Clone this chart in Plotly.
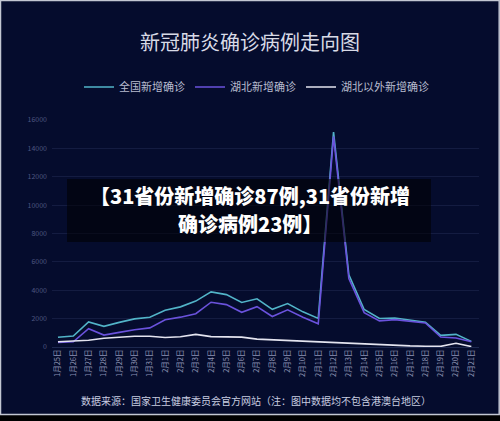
import plotly.graph_objects as go

dates = ["1月25日", "1月26日", "1月27日", "1月28日", "1月29日", "1月30日", "1月31日",
         "2月1日", "2月2日", "2月3日", "2月4日", "2月5日", "2月6日", "2月7日",
         "2月8日", "2月9日", "2月10日", "2月11日", "2月12日", "2月13日", "2月14日",
         "2月15日", "2月16日", "2月17日", "2月18日", "2月19日", "2月20日", "2月21日"]
national = [688, 769, 1771, 1459, 1737, 1982, 2102, 2590, 2829, 3235, 3887, 3694, 3143, 3399,
            2656, 3062, 2478, 2015, 15152, 5090, 2641, 2008, 2048, 1886, 1749, 820, 889, 397]
hubei = [323, 371, 1291, 840, 1032, 1220, 1347, 1921, 2103, 2345, 3156, 2987, 2447, 2841,
         2147, 2618, 2097, 1638, 14840, 4823, 2420, 1843, 1933, 1807, 1693, 700, 631, 366]
outside = [365, 398, 480, 619, 705, 762, 755, 669, 726, 890, 731, 707, 696, 558,
           509, 444, 381, 377, 312, 267, 221, 165, 115, 79, 56, 45, 258, 31]
series_names = ["全国新增确诊", "湖北新增确诊", "湖北以外新增确诊"]
y_ticks = [0, 2000, 4000, 6000, 8000, 10000, 12000, 14000, 16000]
headline = ["【31省份新增确诊87例,31省份新增", "确诊病例23例】"]

W, H = 500, 421
L, R, T, B = 52, 479, 120, 347

def xp(px):
    return (px - L) / (R - L)

def yp(py):
    return (B - py) / (B - T)

BG = "#050c2d"
colors = ["#52b4c8", "#6a52dc", "#e4e4ef"]

fig = go.Figure()
for name, vals, col in zip(series_names, [national, hubei, outside], colors):
    fig.add_trace(go.Scatter(x=dates, y=vals, name=name, mode="lines",
                             line=dict(color=col, width=1.6), hoverinfo="skip"))

FONT = "Noto Sans CJK SC"
fig.update_layout(
    width=W, height=H,
    margin=dict(l=L, r=W - R, t=T, b=H - B, pad=0, autoexpand=False),
    paper_bgcolor=BG, plot_bgcolor=BG,
    font=dict(family=FONT, color="#b8bccf"),
    title=dict(text="新冠肺炎确诊病例走向图", x=0.5, xanchor="center",
               y=1 - 43 / H, yanchor="middle", yref="container",
               font=dict(size=20, color="#d8dae6", family=FONT)),
    legend=dict(orientation="h", x=xp(79), xanchor="left", y=yp(87), yanchor="middle",
                font=dict(size=11, color="#b8bccf"), bgcolor="rgba(0,0,0,0)",
                itemwidth=30),
    showlegend=True,
    xaxis=dict(type="category", range=[-0.39, 27.5], showgrid=False, tickangle=-90,
               tickfont=dict(size=7.5, color="#8d93b3"), ticks="", showline=False,
               zeroline=False, fixedrange=True, automargin=False),
    yaxis=dict(range=[0, 16000], tickvals=y_ticks, tickformat="d", showgrid=True,
               gridcolor="rgba(120,140,200,0.13)", gridwidth=1, zeroline=True,
               zerolinecolor="rgba(120,140,200,0.22)", zerolinewidth=1,
               tickfont=dict(size=7, color="#4d5680"), ticks="", ticklabelstandoff=4,
               fixedrange=True, automargin=False),
    hovermode=False,
)

# card border and black strip below card
fig.add_shape(type="rect", xref="paper", yref="paper", x0=xp(0), x1=xp(W), y0=yp(415), y1=yp(H + 2),
              fillcolor="#000000", line=dict(width=0), layer="above")
fig.add_shape(type="rect", xref="paper", yref="paper", x0=xp(0.5), x1=xp(499.2), y0=yp(0.5), y1=yp(414.5),
              fillcolor="rgba(0,0,0,0)", line=dict(color="#c3c7d3", width=1.5), layer="above")

# overlay headline box
fig.add_shape(type="rect", xref="paper", yref="paper", x0=xp(67), x1=xp(431), y0=yp(179), y1=yp(242),
              fillcolor="rgba(0,0,0,0.55)", line=dict(width=0), layer="above")
for line_text, cy in zip(headline, [195.5, 223]):
    fig.add_annotation(xref="paper", yref="paper", x=xp(250), y=yp(cy), xanchor="center", yanchor="middle",
                       text=line_text, showarrow=False,
                       font=dict(size=20, color="#ffffff", family=FONT, weight=900))

# footer
fig.add_annotation(xref="paper", yref="paper", x=xp(256), y=yp(400), xanchor="center", yanchor="middle",
                   text="数据来源：国家卫生健康委员会官方网站（注：图中数据均不包含港澳台地区）",
                   showarrow=False, font=dict(size=10, color="#c8cce0", family=FONT))

fig.write_html("out.html", config={"displayModeBar": False},
               post_script="document.body.style.margin='0';document.body.style.padding='0';")
